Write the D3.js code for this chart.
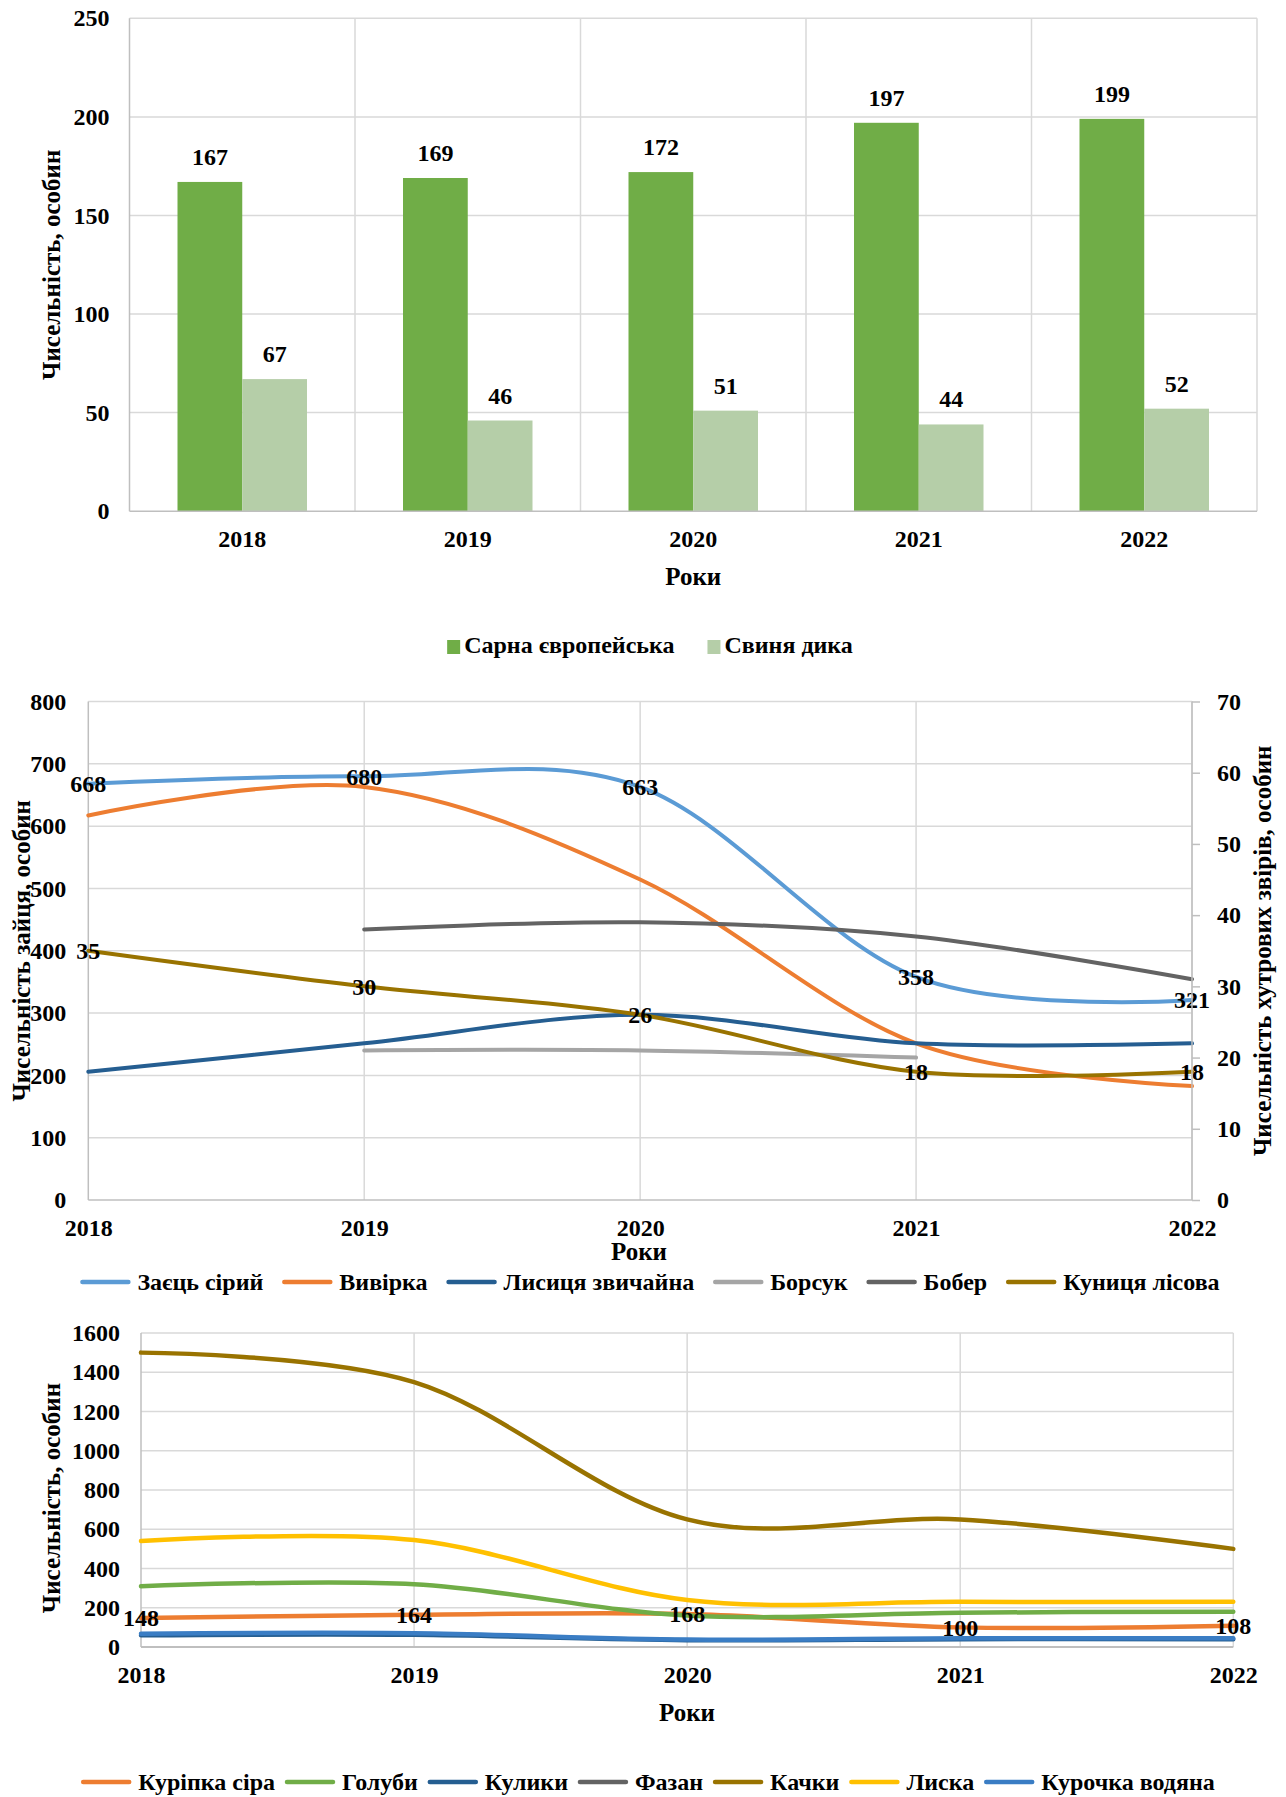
<!DOCTYPE html>
<html lang="uk">
<head>
<meta charset="utf-8">
<title>Чисельність мисливських тварин, 2018–2022</title>
<script src="https://cdn.jsdelivr.net/npm/d3@7"></script>
<style>
  html, body { margin: 0; padding: 0; background: #fff; }
  svg { display: block; }
  text { font-family: "Liberation Serif", "Times New Roman", serif; font-weight: bold; fill: #000; }
</style>
</head>
<body>
<svg id="chart" width="1286" height="1797" font-family="Liberation Serif" font-weight="bold"></svg>
<script>
// ---------- Data ----------
const years = ["2018", "2019", "2020", "2021", "2022"];

// Ungulates (bar chart)
const ungulateNames = ["Сарна європейська", "Свиня дика"];
const roeDeer = [167, 169, 172, 197, 199];
const wildBoar = [67, 46, 51, 44, 52];
const ungulateTicks = [0, 50, 100, 150, 200, 250];

// Hare (left axis) and fur animals (right axis)
const hare = [668, 680, 663, 358, 321];
const squirrel = [54, 58, 45, 22, 16];
const fox = [18, 22, 26, 22, 22];
const badger = [null, 21, 21, 20, null];
const beaver = [null, 38, 39, 37, 31];
const marten = [35, 30, 26, 18, 18];
const hareTicks = [0, 100, 200, 300, 400, 500, 600, 700, 800];
const furTicks = [0, 10, 20, 30, 40, 50, 60, 70];

// Game birds (pheasant has no counts for these years)
const partridge = [148, 164, 168, 100, 108];
const pigeons = [310, 320, 160, 175, 180];
const sandpipers = [60, 62, 35, 40, 40];
const pheasant = [null, null, null, null, null];
const ducks = [1500, 1350, 650, 650, 500];
const coot = [540, 545, 240, 230, 230];
const moorhen = [68, 70, 38, 44, 44];
const birdTicks = [0, 200, 400, 600, 800, 1000, 1200, 1400, 1600];

// ---------- Common ----------
const svg = d3.select("#chart");
const GRID = "#d9d9d9";
const AXIS = "#bfbfbf";
const FS = 24;
const curve = d3.curveCardinal.tension(0);
const fmt = d3.format("d");

function legendRow(g, items, cx, y, kind, gap, textGap) {
  // items: [{name, color}], laid out left to right and centred on cx
  const row = g.append("g");
  let x = 0;
  items.forEach(it => {
    const item = row.append("g").attr("transform", `translate(${x},0)`);
    let sw;
    if (kind === "square") {
      sw = 13;
      item.append("rect").attr("x", 0).attr("y", -13).attr("width", 13).attr("height", 14).attr("fill", it.color);
    } else {
      sw = 50;
      item.append("line").attr("x1", 2).attr("x2", 48).attr("y1", -8).attr("y2", -8)
        .attr("stroke", it.color).attr("stroke-width", 4.5).attr("stroke-linecap", "round");
    }
    const t = item.append("text").attr("x", sw + textGap).attr("y", 0)
      .attr("font-size", FS).text(it.name);
    x += sw + textGap + t.node().getComputedTextLength() + gap;
  });
  const w = x - gap;
  row.attr("transform", `translate(${cx - w / 2},${y})`);
}

function styleTicks(sel) {
  sel.attr("font-family", null);
  sel.selectAll("text").attr("font-size", FS);
}

// ---------- Chart 1: bars ----------
(function () {
  const g = svg.append("g");
  const left = 129.5, right = 1257, top = 18.3, bottom = 511.2;
  const x0 = d3.scaleBand().domain(years).range([left, right]).padding(0);
  const x1 = d3.scaleBand().domain([0, 1]).range([48, x0.bandwidth() - 48]).padding(0);
  const y = d3.scaleLinear().domain([0, 250]).range([bottom, top]);

  g.selectAll(".hg").data(ungulateTicks.slice(1)).join("line")
    .attr("x1", left).attr("x2", right).attr("y1", d => y(d)).attr("y2", d => y(d))
    .attr("stroke", GRID).attr("stroke-width", 1.5);
  g.selectAll(".vg").data(years.slice(1).map(d => x0(d)).concat([right])).join("line")
    .attr("x1", d => d).attr("x2", d => d).attr("y1", top).attr("y2", bottom)
    .attr("stroke", GRID).attr("stroke-width", 1.5);

  const series = [roeDeer, wildBoar];
  const colors = ["#70AD47", "#B5CEA8"];
  series.forEach((vals, si) => {
    g.selectAll(".b" + si).data(vals).join("rect")
      .attr("x", (d, i) => x0(years[i]) + x1(si))
      .attr("width", x1.bandwidth())
      .attr("y", d => y(d)).attr("height", d => bottom - y(d))
      .attr("fill", colors[si]);
    g.selectAll(".l" + si).data(vals).join("text")
      .attr("x", (d, i) => x0(years[i]) + x1(si) + x1.bandwidth() / 2)
      .attr("y", d => y(d) - 17)
      .attr("text-anchor", "middle").attr("font-size", FS).text(d => d);
  });

  g.append("line").attr("x1", left).attr("x2", left).attr("y1", top).attr("y2", bottom).attr("stroke", AXIS).attr("stroke-width", 1.5);
  g.append("line").attr("x1", left).attr("x2", right).attr("y1", bottom).attr("y2", bottom).attr("stroke", AXIS).attr("stroke-width", 1.5);

  const ya = g.append("g").attr("transform", `translate(${left},0)`)
    .call(d3.axisLeft(y).tickValues(ungulateTicks).tickFormat(fmt).tickSize(0).tickPadding(20));
  ya.select(".domain").remove();
  styleTicks(ya);
  const xa = g.append("g").attr("transform", `translate(0,${bottom})`)
    .call(d3.axisBottom(x0).tickSize(0).tickPadding(0));
  xa.select(".domain").remove();
  styleTicks(xa);
  xa.selectAll("text").attr("y", 36).attr("dy", null);

  g.append("text").attr("x", (left + right) / 2).attr("y", 585).attr("text-anchor", "middle").attr("font-size", 25).text("Роки");
  g.append("text").attr("transform", `translate(60,${(top + bottom) / 2}) rotate(-90)`)
    .attr("text-anchor", "middle").attr("font-size", 25).text("Чисельність, особин");

  legendRow(g, ungulateNames.map((n, i) => ({ name: n, color: colors[i] })), 650, 653, "square", 33, 4);
})();

// ---------- Chart 2: hare and fur animals ----------
(function () {
  const g = svg.append("g");
  const left = 88.3, right = 1192, top = 701.5, bottom = 1200;
  const x = d3.scalePoint().domain(years).range([left, right]);
  const yL = d3.scaleLinear().domain([0, 800]).range([bottom, top]);
  const yR = d3.scaleLinear().domain([0, 70]).range([bottom, top]);

  g.selectAll(".hg").data(hareTicks.slice(1)).join("line")
    .attr("x1", left).attr("x2", right).attr("y1", d => yL(d)).attr("y2", d => yL(d))
    .attr("stroke", GRID).attr("stroke-width", 1.5);
  g.selectAll(".vg").data(years.slice(1)).join("line")
    .attr("x1", d => x(d)).attr("x2", d => x(d)).attr("y1", top).attr("y2", bottom)
    .attr("stroke", GRID).attr("stroke-width", 1.5);
  g.append("line").attr("x1", left).attr("x2", left).attr("y1", top).attr("y2", bottom).attr("stroke", AXIS).attr("stroke-width", 1.5);
  g.append("line").attr("x1", left).attr("x2", right).attr("y1", bottom).attr("y2", bottom).attr("stroke", AXIS).attr("stroke-width", 1.5);

  const series = [
    { name: "Заєць сірий", vals: hare, color: "#5B9BD5", y: yL },
    { name: "Вивірка", vals: squirrel, color: "#ED7D31", y: yR },
    { name: "Лисиця звичайна", vals: fox, color: "#255E91", y: yR },
    { name: "Борсук", vals: badger, color: "#A5A5A5", y: yR },
    { name: "Бобер", vals: beaver, color: "#636363", y: yR },
    { name: "Куниця лісова", vals: marten, color: "#997300", y: yR }
  ];
  series.forEach(s => {
    const pts = s.vals.map((v, i) => ({ v, i })).filter(p => p.v != null);
    const line = d3.line().x(p => x(years[p.i])).y(p => s.y(p.v)).curve(curve);
    g.append("path").attr("d", line(pts)).attr("fill", "none")
      .attr("stroke", s.color).attr("stroke-width", 4).attr("stroke-linecap", "round");
  });

  [[hare, yL], [marten, yR]].forEach(([vals, ys]) => {
    g.append("g").selectAll("text").data(vals).join("text")
      .attr("x", (d, i) => x(years[i])).attr("y", d => ys(d)).attr("dy", "0.35em")
      .attr("text-anchor", "middle").attr("font-size", FS).text(d => d);
  });

  const ra = g.append("g").attr("transform", `translate(${right},0)`)
    .call(d3.axisRight(yR).tickValues(furTicks).tickFormat(fmt).tickSize(8).tickPadding(17));
  ra.select(".domain").attr("stroke", AXIS).attr("stroke-width", 1.5).attr("d", `M0,${top}V${bottom}`);
  ra.selectAll(".tick line").attr("stroke", AXIS).attr("stroke-width", 1.5);
  styleTicks(ra);

  const la = g.append("g").attr("transform", `translate(${left},0)`)
    .call(d3.axisLeft(yL).tickValues(hareTicks).tickFormat(fmt).tickSize(0).tickPadding(22));
  la.select(".domain").remove();
  styleTicks(la);

  const xa = g.append("g").attr("transform", `translate(0,${bottom})`)
    .call(d3.axisBottom(x).tickSize(0).tickPadding(0));
  xa.select(".domain").remove();
  styleTicks(xa);
  xa.selectAll("text").attr("y", 36).attr("dy", null);

  g.append("text").attr("x", 639).attr("y", 1260).attr("text-anchor", "middle").attr("font-size", 25).text("Роки");
  g.append("text").attr("transform", `translate(30,${(top + bottom) / 2}) rotate(-90)`)
    .attr("text-anchor", "middle").attr("font-size", 25).text("Чисельність зайця, особин");
  g.append("text").attr("transform", `translate(1271,${(top + bottom) / 2}) rotate(-90)`)
    .attr("text-anchor", "middle").attr("font-size", 25).text("Чисельність хутрових звірів, особин");

  legendRow(g, series.map(s => ({ name: s.name, color: s.color })), 650, 1290, "line", 19, 7);
})();

// ---------- Chart 3: birds ----------
(function () {
  const g = svg.append("g");
  const left = 141, right = 1233.3, top = 1333, bottom = 1647;
  const x = d3.scalePoint().domain(years).range([left, right]);
  const y = d3.scaleLinear().domain([0, 1600]).range([bottom, top]);

  g.selectAll(".hg").data(birdTicks.slice(1)).join("line")
    .attr("x1", left).attr("x2", right).attr("y1", d => y(d)).attr("y2", d => y(d))
    .attr("stroke", GRID).attr("stroke-width", 1.5);
  g.selectAll(".vg").data(years.slice(1)).join("line")
    .attr("x1", d => x(d)).attr("x2", d => x(d)).attr("y1", top).attr("y2", bottom)
    .attr("stroke", GRID).attr("stroke-width", 1.5);
  g.append("line").attr("x1", left).attr("x2", left).attr("y1", top).attr("y2", bottom).attr("stroke", AXIS).attr("stroke-width", 1.5);

  const series = [
    { name: "Куріпка сіра", vals: partridge, color: "#ED7D31" },
    { name: "Голуби", vals: pigeons, color: "#70AD47" },
    { name: "Кулики", vals: sandpipers, color: "#255E91" },
    { name: "Фазан", vals: pheasant, color: "#636363" },
    { name: "Качки", vals: ducks, color: "#997300" },
    { name: "Лиска", vals: coot, color: "#FFC000" },
    { name: "Курочка водяна", vals: moorhen, color: "#3A7DC4" }
  ];
  series.forEach(s => {
    const pts = s.vals.map((v, i) => ({ v, i })).filter(p => p.v != null);
    if (!pts.length) return;
    const line = d3.line().x(p => x(years[p.i])).y(p => y(p.v)).curve(curve);
    g.append("path").attr("d", line(pts)).attr("fill", "none")
      .attr("stroke", s.color).attr("stroke-width", 4.5).attr("stroke-linecap", "round");
  });
  g.append("line").attr("x1", left).attr("x2", right).attr("y1", bottom).attr("y2", bottom).attr("stroke", AXIS).attr("stroke-width", 2);

  g.append("g").selectAll("text").data(partridge).join("text")
    .attr("x", (d, i) => x(years[i])).attr("y", d => y(d)).attr("dy", "0.35em")
    .attr("text-anchor", "middle").attr("font-size", FS).text(d => d);

  const la = g.append("g").attr("transform", `translate(${left},0)`)
    .call(d3.axisLeft(y).tickValues(birdTicks).tickFormat(fmt).tickSize(0).tickPadding(21));
  la.select(".domain").remove();
  styleTicks(la);

  const xa = g.append("g").attr("transform", `translate(0,${bottom})`)
    .call(d3.axisBottom(x).tickSize(0).tickPadding(0));
  xa.select(".domain").remove();
  styleTicks(xa);
  xa.selectAll("text").attr("y", 36).attr("dy", null);

  g.append("text").attr("x", 687).attr("y", 1721).attr("text-anchor", "middle").attr("font-size", 25).text("Роки");
  g.append("text").attr("transform", `translate(60,${(top + bottom) / 2 + 8}) rotate(-90)`)
    .attr("text-anchor", "middle").attr("font-size", 25).text("Чисельність, особин");

  legendRow(g, series.map(s => ({ name: s.name, color: s.color })), 648, 1790, "line", 10, 7);
})();
</script>
</body>
</html>
